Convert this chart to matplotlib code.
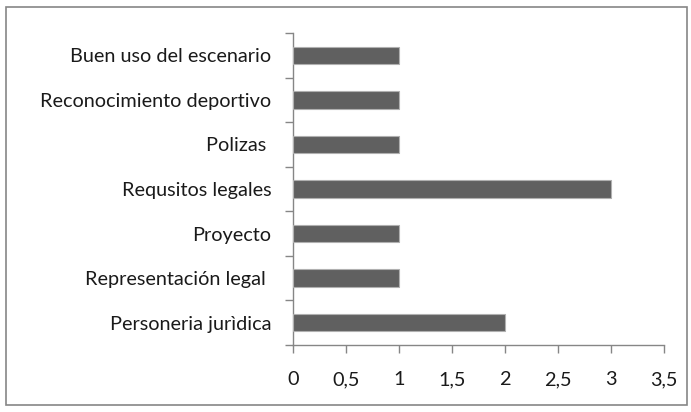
import matplotlib
matplotlib.use("Agg")
import matplotlib.pyplot as plt
from matplotlib.patches import Rectangle
from matplotlib.textpath import TextPath
from matplotlib.font_manager import FontProperties
import numpy as np

categories = ["Personeria jurìdica", "Representación legal ", "Proyecto",
              "Requsitos legales", "Polizas ", "Reconocimiento deportivo",
              "Buen uso del escenario"]
values = [2, 1, 1, 3, 1, 1, 1]
xticks = [0, 0.5, 1, 1.5, 2, 2.5, 3, 3.5]
xtick_labels = ["0", "0,5", "1", "1,5", "2", "2,5", "3", "3,5"]

plt.rcParams['font.family'] = ['Lato', 'DejaVu Sans']

# choose font size so the longest label has the reference width (~229 px)
fp = FontProperties(family='Lato', size=10)
w10 = TextPath((0, 0), "Reconocimiento deportivo", prop=fp).get_extents().width  # points
fs = 10 * (229 / 1.3889) / w10

fig = plt.figure(figsize=(6.91, 4.12), dpi=100)
fig.patch.set_facecolor("white")
fig.add_artist(Rectangle((0.009, 0.017), 0.985, 0.965, transform=fig.transFigure,
                         fill=False, edgecolor="#868686", linewidth=1.2))

ax = fig.add_axes([0.4236, 0.1626, 0.9609 - 0.4236, 0.920 - 0.1626])
y = np.arange(len(categories))
ax.barh(y, values, height=0.39, color="#606060", edgecolor="#b0b0b0", linewidth=0.8, zorder=3)

ax.set_xlim(0, 3.5)
ax.set_ylim(-0.5, len(categories) - 0.5)
ax.set_xticks(xticks)
ax.set_xticklabels(xtick_labels, fontsize=fs, color="#1a1a1a")
ax.set_yticks(y)
ax.set_yticklabels(categories, fontsize=fs, color="#1a1a1a")
ax.set_yticks(np.arange(-0.5, len(categories), 1), minor=True)

for s in ["top", "right"]:
    ax.spines[s].set_visible(False)
for s in ["left", "bottom"]:
    ax.spines[s].set_color("#868686")
    ax.spines[s].set_linewidth(1.0)

ax.tick_params(axis="y", which="major", length=0, pad=15.5)
ax.tick_params(axis="y", which="minor", length=5.5, color="#868686", width=1.0)
ax.tick_params(axis="x", which="major", length=5.5, color="#868686", width=1.0, pad=13.5)

fig.savefig("out.png", dpi=100, facecolor="white")
